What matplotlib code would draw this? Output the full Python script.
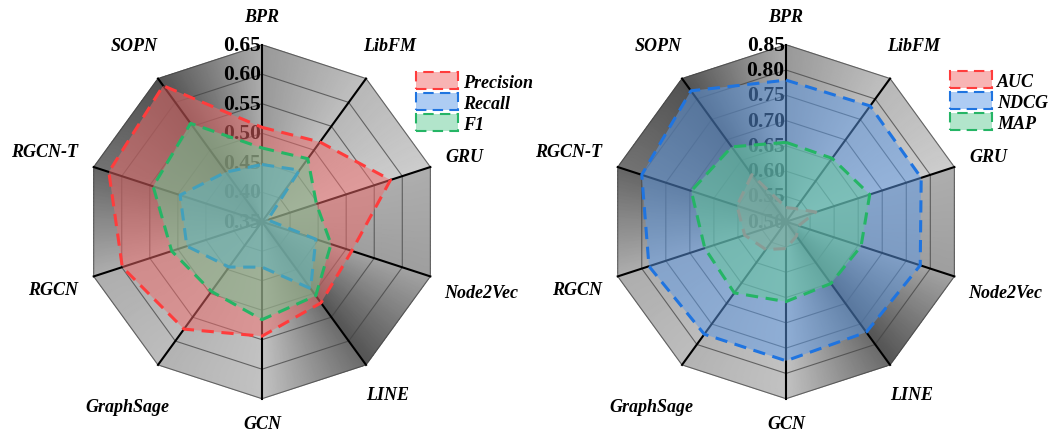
import numpy as np
import matplotlib.pyplot as plt
from matplotlib.patches import Patch
from matplotlib.colors import to_rgba

plt.rcParams['font.family'] = ['Liberation Serif', 'DejaVu Serif']

models = ['BPR', 'LibFM', 'GRU', 'Node2Vec', 'LINE', 'GCN',
          'GraphSage', 'RGCN', 'RGCN-T', 'SOPN']

# left radar
precision = [0.510, 0.517, 0.579, 0.510, 0.520, 0.544, 0.575, 0.599, 0.623, 0.635]
recall = [0.447, 0.458, 0.360, 0.446, 0.490, 0.427, 0.445, 0.484, 0.496, 0.454]
f1 = [0.475, 0.482, 0.447, 0.473, 0.505, 0.516, 0.496, 0.511, 0.544, 0.556]
ticks_left = [0.35, 0.40, 0.45, 0.50, 0.55, 0.60, 0.65]

# right radar
auc = [0.528, 0.532, 0.562, 0.526, 0.535, 0.553, 0.568, 0.586, 0.602, 0.615]
ndcg = [0.780, 0.783, 0.781, 0.779, 0.770, 0.775, 0.775, 0.785, 0.800, 0.820]
map_ = [0.657, 0.655, 0.674, 0.656, 0.651, 0.658, 0.674, 0.669, 0.697, 0.683]
ticks_right = [0.50, 0.55, 0.60, 0.65, 0.70, 0.75, 0.80, 0.85]

# gray shading of each wedge (start spoke -> end spoke, clockwise)
shade = [(0.60, 0.75), (0.72, 0.80), (0.68, 0.62), (0.64, 0.33), (0.42, 0.76),
         (0.76, 0.70), (0.74, 0.68), (0.68, 0.40), (0.45, 0.32), (0.33, 0.68)]
# label distance from centre, in units of the outer radius
lab_r = [1.16, 1.23, 1.20, 1.30, 1.21, 1.14, 1.29, 1.24, 1.29, 1.23]

red = ('#f26b6b', '#ff3c3c')
blue = ('#5e9be8', '#1f74e0')
green = ('#66cc99', '#25b565')

n = len(models)
ang = np.linspace(0, 2 * np.pi, n, endpoint=False)
ang_c = np.append(ang, ang[0])
font_lab = dict(fontsize=13, fontweight='bold', fontstyle='italic')


def radar(ax, ticks, series, names):
    rmin, rmax = ticks[0], ticks[-1]
    span = rmax - rmin
    ax.set_theta_zero_location('N')
    ax.set_theta_direction(-1)
    ax.set_axis_off()

    # shaded decagon background
    for k in range(n):
        th = np.linspace(ang[k], ang[k] + 2 * np.pi / n, 30)
        mid = ang[k] + np.pi / n
        edge = rmin + span * np.cos(np.pi / n) / np.cos(th - mid)
        s = np.linspace(0, 1, 8)
        T, S = np.meshgrid(th, s)
        Rr = rmin + S * (edge[None, :] - rmin)
        frac = (T - ang[k]) / (2 * np.pi / n)
        C = shade[k][0] + (shade[k][1] - shade[k][0]) * frac
        ax.pcolormesh(T, Rr, C, shading='gouraud', cmap='gray',
                      vmin=0, vmax=1, zorder=0)

    for v in ticks[1:]:
        ax.plot(ang_c, [v] * (n + 1), color='#444444', lw=0.8, alpha=0.75,
                zorder=1, clip_on=False)
    for a in ang:
        ax.plot([a, a], [rmin, rmax], color='black', lw=1.5, zorder=2,
                clip_on=False)

    for v in ticks:
        ax.annotate(f'{v:.2f}', xy=(0, v), xytext=(-1, 0),
                    textcoords='offset points', ha='right', va='center',
                    fontsize=15.5, fontweight='bold', zorder=3,
                    annotation_clip=False)

    for a, name, f in zip(ang, models, lab_r):
        ax.text(a, rmin + f * span, name, ha='center', va='center', **font_lab)

    handles = []
    for i, (vals, (fc, lc), lab) in enumerate(zip(series, [red, blue, green], names)):
        z = 4 + i
        ax.fill(ang_c, list(vals) + [vals[0]], color=fc, alpha=0.5, lw=0,
                zorder=z)
        ax.plot(ang_c, list(vals) + [vals[0]], color=lc, lw=2.2,
                ls=(0, (4, 2.5)), zorder=z + 0.1, clip_on=False)
        handles.append(Patch(facecolor=to_rgba(fc, 0.5), edgecolor=lc,
                             linestyle=(0, (5, 3)), linewidth=1.5, label=lab))
    ax.set_ylim(rmin, rmax)
    return handles


fig = plt.figure(figsize=(10.51, 4.35), dpi=100)
ax1 = fig.add_axes([0.0809, 0.0811, 0.3368, 0.8138], projection='polar')
ax2 = fig.add_axes([0.5795, 0.0811, 0.3368, 0.8138], projection='polar')

h1 = radar(ax1, ticks_left, [precision, recall, f1], ['Precision', 'Recall', 'F1'])
h2 = radar(ax2, ticks_right, [auc, ndcg, map_], ['AUC', 'NDCG', 'MAP'])

leg_kw = dict(loc='upper left', bbox_transform=fig.transFigure, frameon=False,
              handlelength=2.3, handleheight=1.1, labelspacing=0.12,
              handletextpad=0.3, borderpad=0, borderaxespad=0,
              prop=dict(weight='bold', style='italic', size=13))
ax1.legend(handles=h1, bbox_to_anchor=(0.3958, 0.832), **leg_kw).set_zorder(10)
ax2.legend(handles=h2, bbox_to_anchor=(0.9039, 0.835), **leg_kw).set_zorder(10)

fig.savefig('out.png', dpi=100)
